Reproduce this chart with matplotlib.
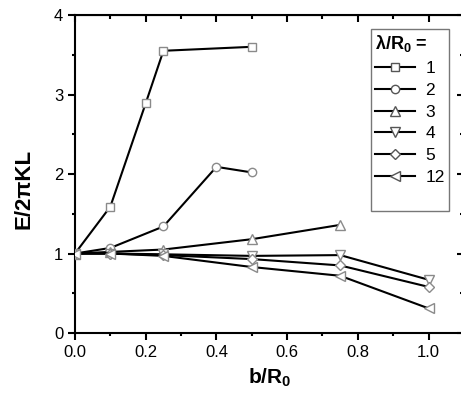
import matplotlib
matplotlib.use("Agg")
import matplotlib.pyplot as plt
from matplotlib.lines import Line2D
from matplotlib.ticker import MultipleLocator

plt.rcParams["font.family"] = ["Liberation Sans", "DejaVu Sans"]
plt.rcParams["mathtext.fontset"] = "custom"
plt.rcParams["mathtext.rm"] = "Liberation Sans"
plt.rcParams["mathtext.bf"] = "Liberation Sans:bold"
plt.rcParams["mathtext.it"] = "Liberation Sans"

# data
lam_labels = ["1", "2", "3", "4", "5", "12"]
markers = ["s", "o", "^", "v", "D", "<"]

b1 = [0.0, 0.1, 0.2, 0.25, 0.5]
e1 = [1.0, 1.59, 2.89, 3.55, 3.60]
b2 = [0.0, 0.1, 0.25, 0.4, 0.5]
e2 = [1.0, 1.07, 1.34, 2.09, 2.02]
b3 = [0.0, 0.1, 0.25, 0.5, 0.75]
e3 = [1.0, 1.02, 1.05, 1.18, 1.36]
b4 = [0.0, 0.1, 0.25, 0.5, 0.75, 1.0]
e4 = [1.0, 1.00, 0.99, 0.97, 0.98, 0.67]
b5 = [0.0, 0.1, 0.25, 0.5, 0.75, 1.0]
e5 = [1.0, 1.00, 0.98, 0.93, 0.85, 0.58]
b12 = [0.0, 0.1, 0.25, 0.5, 0.75, 1.0]
e12 = [1.0, 1.00, 0.97, 0.83, 0.72, 0.31]

series = [(b1, e1), (b2, e2), (b3, e3), (b4, e4), (b5, e5), (b12, e12)]

fig = plt.figure(figsize=(4.61, 3.94), dpi=100)
ax = fig.add_axes([0.1627, 0.1548, 0.8436, 0.8071])

msizes = {"s": 5.5, "o": 6, "^": 7, "v": 7, "D": 5.5, "<": 7}
handles = []
for (bx, ey), mk, lab in zip(series, markers, lam_labels):
    ax.plot(bx, ey, color="black", lw=1.5, marker=mk, ms=msizes[mk],
            mfc="white", mec="#8a8a8a", mew=1.0, zorder=3)
    handles.append(Line2D([], [], color="black", lw=1.5, marker=mk, ms=msizes[mk],
                          mfc="white", mec="#555555", mew=1.0, label=lab))
handles.append(Line2D([], [], color="none", label=" "))

ax.set_xlim(0, 1.1)
ax.set_ylim(0, 4)
ax.xaxis.set_major_locator(MultipleLocator(0.2))
ax.xaxis.set_minor_locator(MultipleLocator(0.1))
ax.yaxis.set_major_locator(MultipleLocator(1))
ax.yaxis.set_minor_locator(MultipleLocator(0.5))

for s in ax.spines.values():
    s.set_linewidth(1.5)

ax.tick_params(which="both", labelsize=12, width=1.5)
ax.tick_params(which="major", length=5)
ax.tick_params(which="minor", length=2.5)
ax.tick_params(axis="both", which="both", direction="out")
ax.xaxis.set_major_formatter(plt.FuncFormatter(lambda v, p: f"{v:.1f}"))

# inward ticks on top and right, no labels
axt = ax.secondary_xaxis("top")
axt.xaxis.set_major_locator(MultipleLocator(0.2))
axt.xaxis.set_minor_locator(MultipleLocator(0.1))
axt.tick_params(which="both", direction="in", labeltop=False, width=1.5)
axt.tick_params(which="major", length=5)
axt.tick_params(which="minor", length=3)
axr = ax.secondary_yaxis("right")
axr.yaxis.set_major_locator(MultipleLocator(1))
axr.yaxis.set_minor_locator(MultipleLocator(0.5))
axr.tick_params(which="both", direction="in", labelright=False, width=1.5)
axr.tick_params(which="major", length=5)
axr.tick_params(which="minor", length=3)

ax.set_xlabel(r"b/R$_\mathbf{0}$", fontsize=15, fontweight="bold", labelpad=5)
ax.set_ylabel("E/2\u03c0KL", fontsize=16, fontweight="bold")
ax.yaxis.set_label_coords(-0.103, 0.453)

leg = ax.legend(handles=handles, loc="upper right", bbox_to_anchor=(0.9617, 0.956),
                borderaxespad=0,
                title=r"$\mathbf{\lambda}$/R$_\mathbf{0}$ =", fontsize=12.5,
                title_fontproperties={"size": 13, "weight": "bold"},
                handlelength=2.3, handletextpad=0.6, labelspacing=0.38,
                fancybox=False, framealpha=1, edgecolor="#777777",
                borderpad=0.25, alignment="left")
leg.get_frame().set_linewidth(1.0)

fig.savefig("out.png", dpi=100)
